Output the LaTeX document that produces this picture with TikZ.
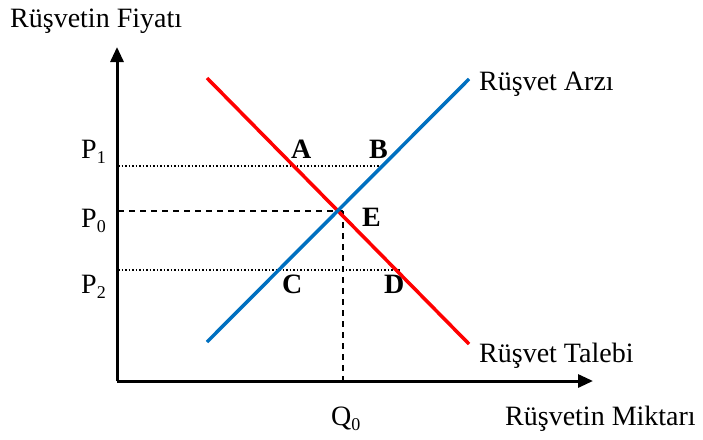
\documentclass[tikz,border=0pt]{standalone}
\usepackage{fontspec}
\setmainfont{Liberation Serif}
\usetikzlibrary{arrows.meta}
\definecolor{supplyblue}{RGB}{0,112,192}
\definecolor{demandred}{RGB}{255,0,0}
\newcommand{\mysub}[1]{{\fontsize{18}{18}\selectfont\raisebox{-5pt}{#1}}}
\tikzset{
  axis/.style={line width=3pt,-{Triangle[length=15pt,width=13pt]}},
  supplyline/.style={line width=3.5pt,supplyblue},
  demandline/.style={line width=3.5pt,demandred},
  guidedot/.style={line width=1.5pt,dotted},
  guidedash/.style={line width=1.5pt,dash pattern=on 6pt off 5pt},
  lbl/.style={inner sep=0pt,anchor=base west,font=\fontsize{28}{32}\selectfont},
  pt/.style={inner sep=0pt,anchor=base west,font=\fontsize{28}{32}\selectfont\bfseries}
}
\begin{document}
\begin{tikzpicture}[x=1pt,y=-1pt]
\useasboundingbox (0,0) rectangle (703,439);
% coordinates
\coordinate (O) at (117,381);
\coordinate (Ytip) at (117,47);
\coordinate (Xtip) at (593,381);
\coordinate (S1) at (207,342);
\coordinate (S2) at (469,79);
\coordinate (D1) at (207,78);
\coordinate (D2) at (469,344);
\coordinate (E) at (343,211);
\coordinate (P1a) at (118,166);
\coordinate (P1b) at (382,166);
\coordinate (P0a) at (118,211);
\coordinate (P2a) at (118,270);
\coordinate (P2b) at (400,270);
\coordinate (Qb) at (343,380);
% guides
\draw[guidedot] (P1a) -- (P1b);
\draw[guidedot] (P2a) -- (P2b);
\draw[guidedash] (P0a) -- (E);
\draw[guidedash] (E) -- (Qb);
% curves
\draw[demandline] (D1) -- (D2);
\draw[supplyline] (S1) -- (S2);
% axes
\draw[axis] (O) -- (Ytip);
\draw[axis] (O) -- (Xtip);
% labels
\node[lbl] (yl) at (10,27) {Rüşvetin Fiyatı};
\node[lbl] (xl) at (505,425) {Rüşvetin Miktarı};
\node[lbl] (sl) at (479,90) {Rüşvet Arzı};
\node[lbl] (dl) at (479,362) {Rüşvet Talebi};
\node[lbl] (p1) at (81,158) {P\mysub{1}};
\node[lbl] (p0) at (81,227) {P\mysub{0}};
\node[lbl] (p2) at (81,293) {P\mysub{2}};
\node[lbl] (q0) at (331,425) {Q\mysub{0}};
\node[pt] (A) at (291,158) {A};
\node[pt] (B) at (369,158) {B};
\node[pt] (Elab) at (362,226) {E};
\node[pt] (C) at (282,293) {C};
\node[pt] (D) at (384,293) {D};
\end{tikzpicture}
\end{document}
